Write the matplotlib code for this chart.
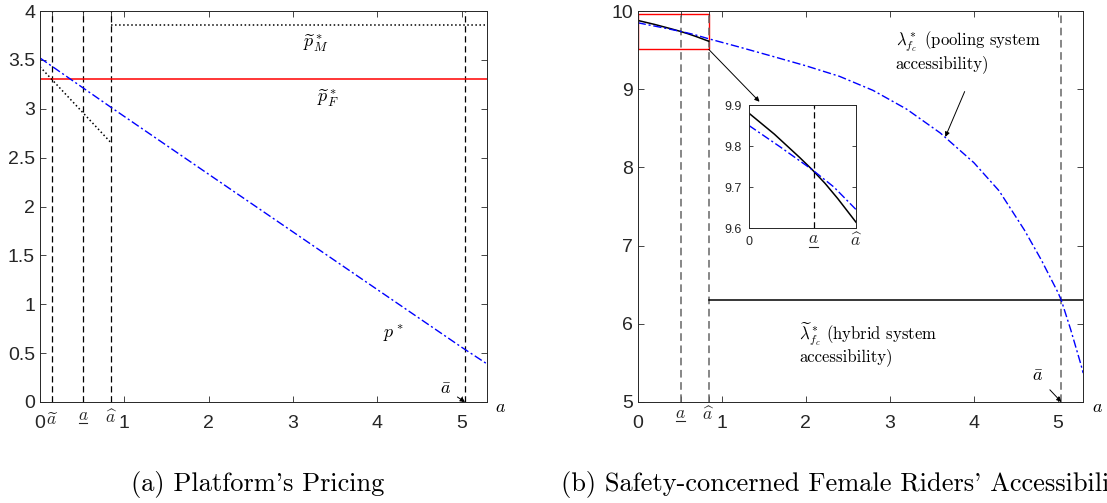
import matplotlib
matplotlib.use('Agg')
import matplotlib.pyplot as plt
from matplotlib.patches import Rectangle
from matplotlib.lines import Line2D
from matplotlib.transforms import ScaledTranslation

plt.rcParams['mathtext.fontset'] = 'cm'
plt.rcParams['font.family'] = ['Liberation Sans', 'DejaVu Sans']

# threshold values of a
a_tilde, a_low, a_hat, a_bar = 0.14, 0.51, 0.845, 5.04

# (a) platform's pricing
a_p = [0, 0.85, 2, 3, 4, 5, 5.3]
p_star = [3.52, 3.01, 2.33, 1.74, 1.15, 0.56, 0.39]
a_p_low = [0, a_hat]
p_low = [3.43, 2.65]
p_M = 3.857
p_F = 3.30

# (b) accessibility of safety-concerned female riders
a_lam = [0, 0.25, 0.5, 0.67, 0.845, 1.2, 1.6, 2.0, 2.4, 2.8, 3.2, 3.6, 4.0,
         4.3, 4.6, 4.8, 5.0, 5.04, 5.15, 5.27, 5.3]
lam_pool = [9.85, 9.797, 9.742, 9.70, 9.645, 9.542, 9.422, 9.30, 9.165, 8.985,
            8.745, 8.44, 8.06, 7.70, 7.20, 6.82, 6.40, 6.30, 5.93, 5.49, 5.37]
a_hyb_low = [0, 0.2, 0.4, 0.5, 0.6, 0.7, 0.845]
lam_hyb_low = [9.88, 9.829, 9.772, 9.742, 9.709, 9.672, 9.614]
lam_hyb = 6.30

ink = '#262626'
cm_text = ['cmr10', 'DejaVu Serif']
px = 72 / 100  # points per pixel
dashdot = (0, (6, 2, 1.5, 2))


def style(ax, size=14):
    ax.tick_params(direction='in', top=True, right=True, length=4, width=0.6,
                   color=ink, labelcolor=ink, labelsize=size)
    for s in ax.spines.values():
        s.set_linewidth(0.7)
        s.set_color(ink)


def xlabels(ax, ticks, labels, pads):
    # pads are distances (pixels) from the axis to the label baseline
    ax.set_xticks(ticks)
    ax.set_xticklabels(labels)
    for tick, lab, p in zip(ax.xaxis.get_major_ticks(), labels, pads):
        tick.set_pad(p * px)
        tick.label1.set_verticalalignment('baseline')
        if lab.startswith('$'):
            tick.label1.set_fontsize(12.5)


def underline(ax, x, half, dy):
    tr = ax.get_xaxis_transform() + ScaledTranslation(0, -dy / 100, fig.dpi_scale_trans)
    ax.add_line(Line2D([x - half, x + half], [0, 0], transform=tr, color=ink,
                       lw=0.8, clip_on=False))


fig = plt.figure(figsize=(11.07, 5.03), dpi=100)
ax1 = fig.add_axes([0.0361, 0.2008, 0.4038, 0.7773])
ax2 = fig.add_axes([0.576, 0.2008, 0.4025, 0.7773])

# ---- left panel
for x in [a_tilde, a_low, a_hat, a_bar]:
    ax1.axvline(x, color='k', ls=(0, (5, 3)), lw=0.9)
ax1.plot([a_hat, 5.3], [p_M, p_M], color='k', ls=':', lw=1.1)
ax1.axhline(p_F, color='red', lw=1.1)
ax1.plot(a_p_low, p_low, color='k', ls=':', lw=1.1)
ax1.plot(a_p, p_star, color='blue', ls=dashdot, lw=1)

ax1.text(3.27, 3.67, r'$\widetilde{p}^*_M$', fontsize=13, ha='center', va='center')
ax1.text(3.42, 3.11, r'$\widetilde{p}^*_F$', fontsize=13, ha='center', va='center')
ax1.text(4.19, 0.69, r'$p^*$', fontsize=13, ha='center', va='center')
ax1.annotate(r'$\bar{a}$', xy=(a_bar, 0), xytext=(4.81, 0.13), fontsize=13,
             ha='center', va='center',
             arrowprops=dict(arrowstyle='-|>', color='k', lw=0.7,
                             mutation_scale=7, shrinkA=3, shrinkB=0))

ax1.set_xlim(0, 5.3)
ax1.set_ylim(0, 4)
ax1.set_yticks([0, 0.5, 1, 1.5, 2, 2.5, 3, 3.5, 4])
ax1.set_yticklabels(['0', '0.5', '1', '1.5', '2', '2.5', '3', '3.5', '4'])
style(ax1)
xlabels(ax1, [0, a_tilde, a_low, a_hat, 1, 2, 3, 4, 5],
        ['0', r'$\widetilde{a}$', r'$a$', r'$\widehat{a}$', '1', '2', '3', '4', '5'],
        [26, 23, 18, 21, 26, 26, 26, 26, 26])
underline(ax1, a_low, 0.052, 21)
ax1.text(1.03, -0.015, r'$a$', transform=ax1.transAxes, fontsize=13,
         ha='center', va='center')

# ---- right panel
for x in [a_low, a_hat, a_bar]:
    ax2.axvline(x, color='0.4', ls=(0, (5, 3)), lw=1.1)
ax2.plot([a_hat, 5.3], [lam_hyb, lam_hyb], color='k', lw=1.1)
ax2.plot(a_hyb_low, lam_hyb_low, color='k', lw=1.1)
ax2.plot(a_lam, lam_pool, color='blue', ls=dashdot, lw=1)
ax2.add_patch(Rectangle((0, 9.52), a_hat, 0.44, fill=False, ec='red', lw=1))
ax2.annotate('', xy=(1.45, 8.84), xytext=(a_hat, 9.51),
             arrowprops=dict(arrowstyle='-|>', color='k', lw=0.7,
                             mutation_scale=7, shrinkA=0, shrinkB=0))

ax2.text(3.07, 9.48, r'$\lambda^*_{f_c}$ (pooling system' + '\naccessibility)',
         fontsize=12, fontfamily=cm_text, ha='left', va='center', linespacing=1.05)
ax2.annotate('', xy=(3.66, 8.39), xytext=(3.89, 8.97),
             arrowprops=dict(arrowstyle='-|>', color='k', lw=0.7,
                             mutation_scale=7, shrinkA=0, shrinkB=0))
ax2.text(1.92, 5.75, r'$\widetilde{\lambda}^*_{f_c}$ (hybrid system' + '\naccessibility)',
         fontsize=12, fontfamily=cm_text, ha='left', va='center', linespacing=1.05)
ax2.annotate(r'$\bar{a}$', xy=(a_bar, 5), xytext=(4.76, 5.32), fontsize=13,
             ha='center', va='center',
             arrowprops=dict(arrowstyle='-|>', color='k', lw=0.7,
                             mutation_scale=7, shrinkA=4, shrinkB=0))

ax2.set_xlim(0, 5.3)
ax2.set_ylim(5, 10)
ax2.set_yticks([5, 6, 7, 8, 9, 10])
style(ax2)
xlabels(ax2, [0, a_low, a_hat, 1, 2, 3, 4, 5],
        ['0', r'$a$', r'$\widehat{a}$', '1', '2', '3', '4', '5'],
        [26, 16.5, 18, 26, 26, 26, 26, 26])
underline(ax2, a_low, 0.052, 19.5)
ax2.text(1.032, -0.015, r'$a$', transform=ax2.transAxes, fontsize=13,
         ha='center', va='center')

# ---- inset (zoom on the red box)
axi = fig.add_axes([0.6766, 0.5467, 0.0967, 0.2445])
axi.axvline(a_low, color='k', ls=(0, (5, 3)), lw=0.9)
axi.plot(a_hyb_low, lam_hyb_low, color='k', lw=1.1)
axi.plot(a_lam, lam_pool, color='blue', ls=dashdot, lw=1)
axi.set_xlim(0, a_hat)
axi.set_ylim(9.6, 9.9)
axi.set_yticks([9.6, 9.7, 9.8, 9.9])
axi.set_yticklabels(['9.6', '9.7', '9.8', '9.9'])
style(axi, size=9)
axi.tick_params(length=3)
axi.tick_params(axis='y', pad=5)
xlabels(axi, [0, a_low, a_hat], ['0', r'$a$', r'$\widehat{a}$'], [16.7, 15, 18.4])
underline(axi, a_low, 0.034, 19)

# captions
fig.text(258 / 1107, 1 - 484 / 503, "(a) Platform's Pricing", fontsize=19,
         fontfamily=cm_text, ha='center', va='center')
fig.text(561 / 1107, 1 - 484 / 503, "(b) Safety-concerned Female Riders' Accessibility",
         fontsize=19, fontfamily=cm_text, ha='left', va='center')

fig.savefig('out.png', dpi=100)
